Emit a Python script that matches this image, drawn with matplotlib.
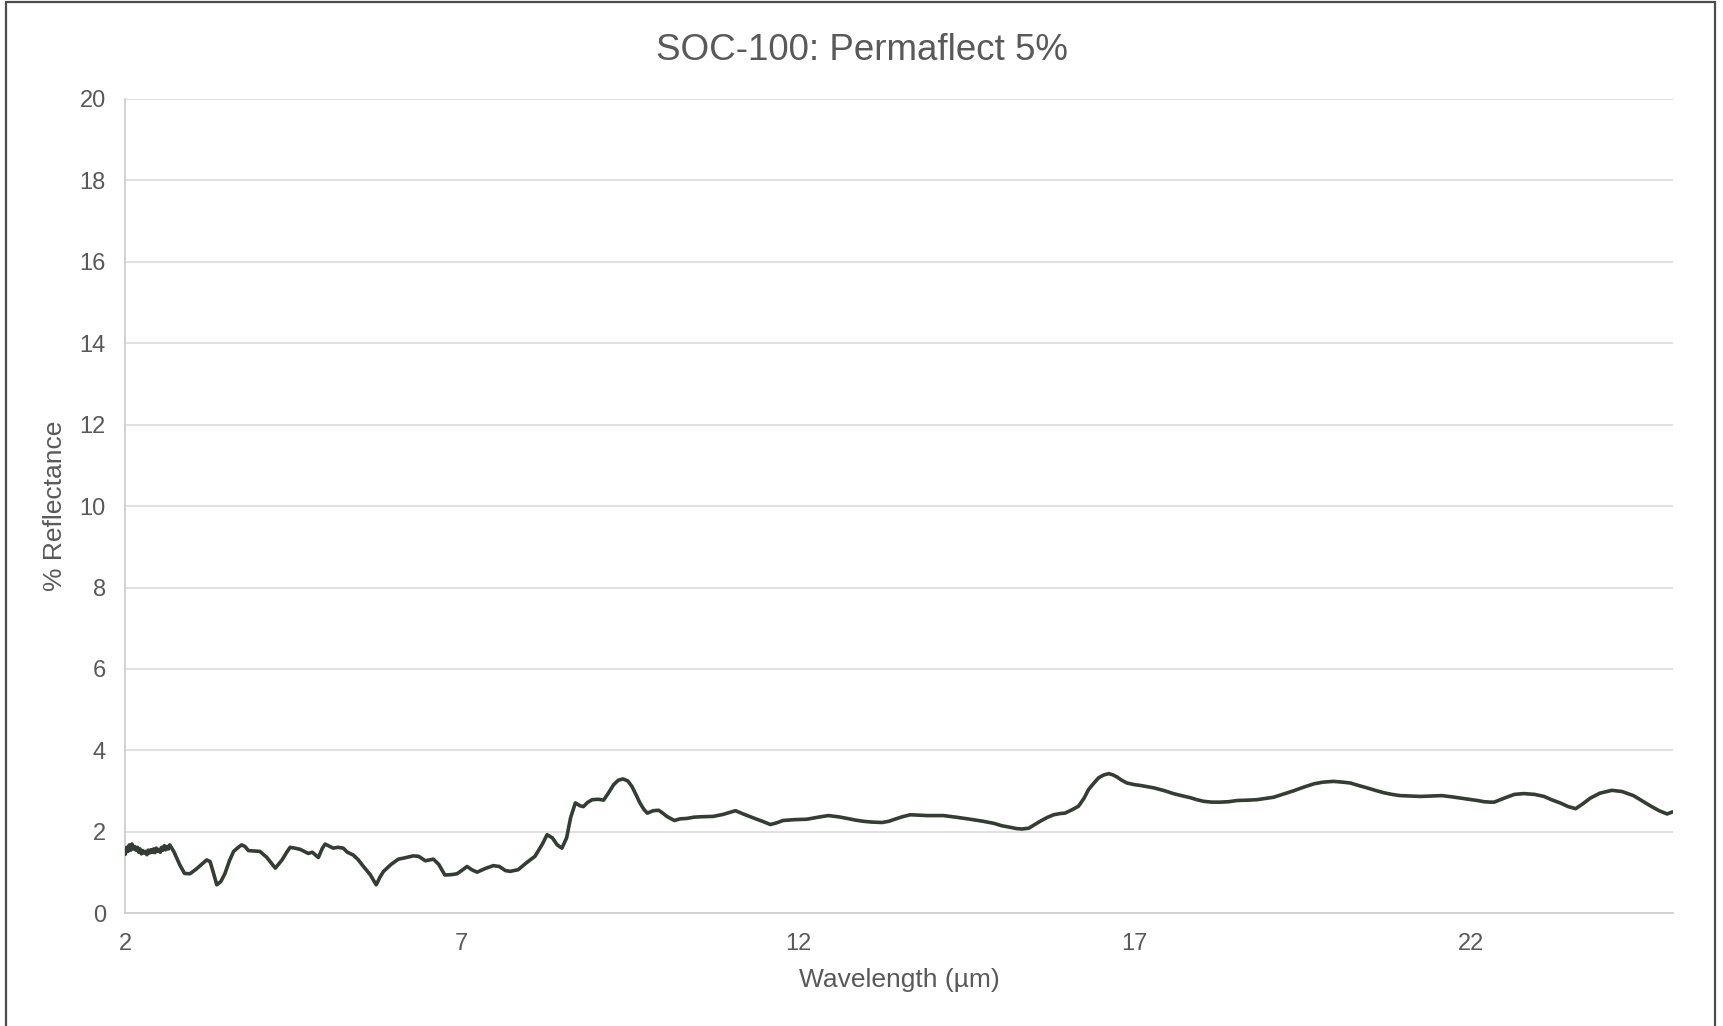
import matplotlib
matplotlib.use("Agg")
import matplotlib.pyplot as plt
from matplotlib.patches import Rectangle

plt.rcParams['font.family'] = ['Liberation Sans', 'DejaVu Sans']

title = "SOC-100: Permaflect 5%"
xlabel = "Wavelength (µm)"
ylabel = "% Reflectance"
xticks = [2, 7, 12, 17, 22]
yticks = [0, 2, 4, 6, 8, 10, 12, 14, 16, 18, 20]

wavelength = [
    2.00, 2.02, 2.04, 2.06, 2.08, 2.10, 2.12, 2.14, 2.16, 2.18, 2.20, 2.22, 2.24, 2.26, 2.28, 2.30, 2.32,
    2.34, 2.36, 2.38, 2.40, 2.42, 2.44, 2.46, 2.48, 2.50, 2.52, 2.54, 2.56, 2.58, 2.60, 2.62, 2.64, 2.66,
    2.72, 2.81, 2.88, 2.96, 3.05, 3.12, 3.21, 3.26, 3.30, 3.36, 3.42, 3.48, 3.55, 3.61, 3.68, 3.73, 3.78,
    3.83, 3.92, 4.00, 4.10, 4.23, 4.33, 4.40, 4.45, 4.52, 4.60, 4.66, 4.72, 4.78, 4.87, 4.93, 4.97, 5.03,
    5.09, 5.16, 5.24, 5.30, 5.39, 5.46, 5.54, 5.64, 5.73, 5.79, 5.84, 5.95, 6.06, 6.15, 6.28, 6.36, 6.46,
    6.58, 6.66, 6.75, 6.85, 6.93, 7.00, 7.08, 7.15, 7.23, 7.35, 7.47, 7.56, 7.65, 7.72, 7.84, 7.97, 8.09,
    8.20, 8.27, 8.35, 8.42, 8.49, 8.56, 8.62, 8.69, 8.76, 8.81, 8.87, 8.94, 9.03, 9.11, 9.18, 9.26, 9.33,
    9.40, 9.47, 9.53, 9.59, 9.65, 9.71, 9.76, 9.85, 9.93, 9.99, 10.05, 10.16, 10.25, 10.35, 10.45, 10.55,
    10.74, 10.89, 11.07, 11.20, 11.34, 11.47, 11.59, 11.68, 11.78, 11.95, 12.13, 12.30, 12.45, 12.60,
    12.73, 12.85, 12.97, 13.10, 13.25, 13.35, 13.42, 13.55, 13.67, 13.80, 13.92, 14.05, 14.16, 14.35,
    14.56, 14.75, 14.91, 15.03, 15.13, 15.25, 15.33, 15.43, 15.50, 15.60, 15.70, 15.80, 15.90, 15.97,
    16.07, 16.17, 16.25, 16.32, 16.40, 16.47, 16.55, 16.62, 16.68, 16.74, 16.81, 16.89, 17.00, 17.09,
    17.29, 17.45, 17.58, 17.70, 17.83, 17.93, 18.03, 18.15, 18.28, 18.40, 18.53, 18.70, 18.82, 18.95,
    19.07, 19.22, 19.37, 19.52, 19.67, 19.80, 19.96, 20.10, 20.21, 20.33, 20.46, 20.58, 20.71, 20.83,
    20.95, 21.10, 21.25, 21.40, 21.57, 21.72, 21.85, 21.97, 22.10, 22.20, 22.29, 22.35, 22.44, 22.55,
    22.65, 22.79, 22.95, 23.09, 23.20, 23.33, 23.45, 23.56, 23.66, 23.78, 23.92, 24.10, 24.25, 24.42,
    24.55, 24.67, 24.80, 24.92, 25.00,
]

reflectance = [
    1.45, 1.62, 1.52, 1.68, 1.55, 1.70, 1.58, 1.64, 1.55, 1.62, 1.50, 1.58, 1.46, 1.54, 1.48, 1.52, 1.44,
    1.55, 1.48, 1.56, 1.50, 1.58, 1.49, 1.60, 1.52, 1.57, 1.50, 1.62, 1.55, 1.66, 1.56, 1.64, 1.58, 1.68,
    1.52, 1.19, 0.98, 0.97, 1.08, 1.18, 1.31, 1.27, 1.05, 0.70, 0.78, 0.97, 1.30, 1.52, 1.62, 1.68, 1.64,
    1.54, 1.53, 1.52, 1.38, 1.11, 1.31, 1.50, 1.62, 1.60, 1.57, 1.52, 1.47, 1.50, 1.37, 1.60, 1.70, 1.65,
    1.60, 1.62, 1.60, 1.50, 1.43, 1.32, 1.15, 0.95, 0.70, 0.90, 1.03, 1.20, 1.33, 1.36, 1.41, 1.40, 1.29,
    1.33, 1.20, 0.94, 0.95, 0.97, 1.05, 1.15, 1.07, 1.01, 1.10, 1.17, 1.15, 1.05, 1.03, 1.07, 1.25, 1.40,
    1.70, 1.93, 1.85, 1.68, 1.60, 1.85, 2.35, 2.71, 2.64, 2.62, 2.72, 2.79, 2.80, 2.78, 2.95, 3.16, 3.27,
    3.30, 3.25, 3.12, 2.92, 2.71, 2.55, 2.46, 2.52, 2.53, 2.46, 2.38, 2.28, 2.32, 2.33, 2.36, 2.37,
    2.38, 2.43, 2.52, 2.43, 2.34, 2.26, 2.18, 2.22, 2.28, 2.30, 2.31, 2.36, 2.40, 2.37,
    2.33, 2.29, 2.26, 2.24, 2.23, 2.26, 2.30, 2.37, 2.42, 2.41, 2.40, 2.40, 2.40, 2.36,
    2.31, 2.26, 2.21, 2.15, 2.12, 2.08, 2.07, 2.09, 2.16, 2.26, 2.35, 2.42, 2.45, 2.46,
    2.54, 2.63, 2.82, 3.04, 3.20, 3.33, 3.40, 3.43, 3.40, 3.35, 3.27, 3.20, 3.16, 3.14,
    3.08, 3.01, 2.94, 2.89, 2.84, 2.79, 2.75, 2.73, 2.73, 2.74, 2.77, 2.78, 2.79, 2.82,
    2.85, 2.93, 3.01, 3.10, 3.18, 3.22, 3.24, 3.22, 3.20, 3.14, 3.08, 3.02, 2.96, 2.92,
    2.89, 2.88, 2.87, 2.88, 2.89, 2.86, 2.83, 2.80, 2.77, 2.74, 2.73, 2.73, 2.79, 2.86,
    2.92, 2.94, 2.92, 2.87, 2.79, 2.71, 2.62, 2.57, 2.68, 2.83, 2.95, 3.02, 2.99, 2.89,
    2.76, 2.64, 2.52, 2.44, 2.49,
]

text_color = "#595959"
grid_color = "#d9d9d9"
line_color = "#333d33"

fig = plt.figure(figsize=(17.23, 10.26), dpi=100)
fig.patch.set_facecolor("white")

# outer chart border (bottom edge falls outside the image)
fig.patches.append(Rectangle((6 / 1723, -0.02), (1715 - 6) / 1723, 1.02 - 2 / 1026,
                             transform=fig.transFigure, fill=False,
                             edgecolor="#4d4d4d", linewidth=1.6, zorder=0))

ax = fig.add_axes([125.3 / 1723, 1 - 913.3 / 1026, (1672.5 - 125.3) / 1723, (913.3 - 98.9) / 1026])
ax.plot(wavelength, reflectance, color=line_color, linewidth=2.6,
        solid_joinstyle="round", solid_capstyle="round", zorder=3)

ax.set_xlim(2, 25)
ax.set_ylim(0, 20)
ax.set_xticks(xticks)
ax.set_yticks(yticks)
ax.grid(axis="y", color=grid_color, linewidth=1.1)
ax.set_axisbelow(True)
for s in ["top", "right"]:
    ax.spines[s].set_visible(False)
for s in ["left", "bottom"]:
    ax.spines[s].set_color("#cfcfcf")
    ax.spines[s].set_linewidth(1.3)
ax.tick_params(axis="both", length=0, labelsize=17, labelcolor=text_color)
ax.tick_params(axis="x", pad=14)
ax.tick_params(axis="y", pad=14)

ax.set_xlabel(xlabel, fontsize=19, color=text_color)
ax.xaxis.label.set_va("center")
ax.xaxis.set_label_coords(0.5, (913.3 - 980) / 814.4)
ax.set_ylabel(ylabel, fontsize=19, color=text_color)
ax.yaxis.label.set_va("center")
ax.yaxis.set_label_coords((55 - 125.3) / 1547.2, 0.5)

fig.text(0.5, 1 - 50 / 1026, title, ha="center", va="center", fontsize=26.5, color=text_color)

fig.savefig("out.png", dpi=100, facecolor="white")
